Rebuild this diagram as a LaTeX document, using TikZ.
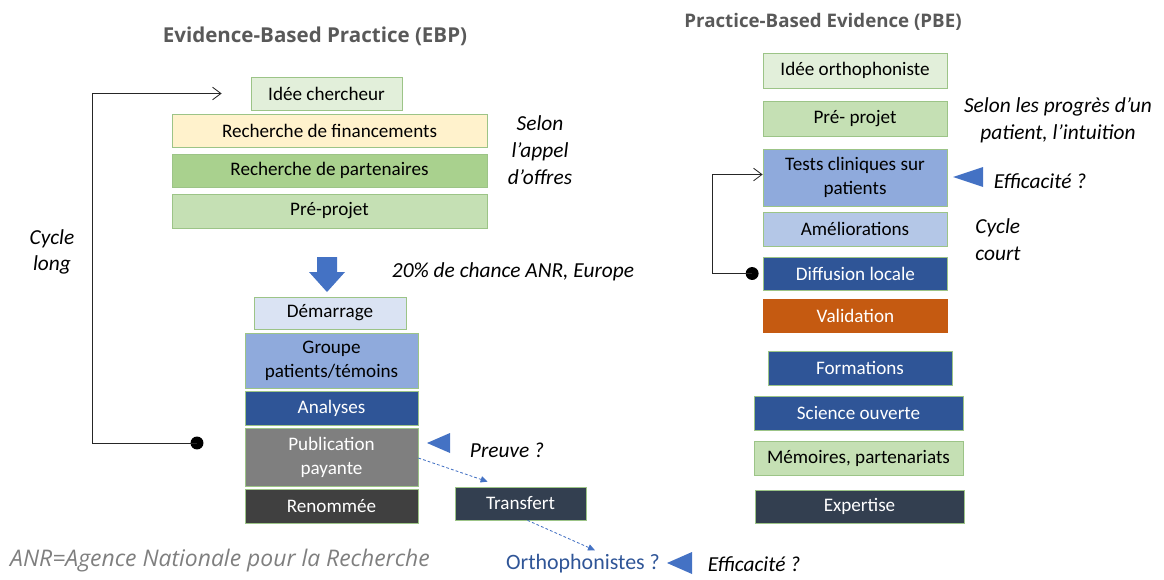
\documentclass[tikz,border=0pt]{standalone}
\usepackage{fontspec}
\setmainfont{Carlito}
\newfontfamily\titlefont{Open Sans}
\usepackage{tikz}
\usetikzlibrary{calc}
\usetikzlibrary{arrows.meta}
\definecolor{BoxLine}{HTML}{9CC487}
\definecolor{LGreen}{HTML}{E2EFDA}
\definecolor{PGreen}{HTML}{C5E0B4}
\definecolor{MGreen}{HTML}{A9D18E}
\definecolor{LYellow}{HTML}{FFF2CC}
\definecolor{LBlue}{HTML}{DAE3F3}
\definecolor{PBlue}{HTML}{B4C7E7}
\definecolor{MBlue}{HTML}{8FAADC}
\definecolor{DBlue}{HTML}{2F5597}
\definecolor{Navy}{HTML}{333F50}
\definecolor{MGray}{HTML}{7F7F7F}
\definecolor{DGray}{HTML}{404040}
\definecolor{Rust}{HTML}{C55A11}
\definecolor{TriBlue}{HTML}{4472C4}
\definecolor{TitleGray}{HTML}{595959}
\newcommand{\pix}{0.025cm}

\begin{document}
\begin{tikzpicture}[
x=0.025cm, y=-0.025cm,
MyBox/.style={draw=BoxLine,line width=0.5pt,inner sep=1pt,align=center,
  font=\fontsize{13.6}{17}\selectfont,minimum height=33*\pix},
DarkBox/.style={MyBox,text=white},
Titles/.style={font=\titlefont\bfseries\fontsize{14.6}{17}\selectfont,text=TitleGray},
Notes/.style={font=\itshape\fontsize{15.2}{19}\selectfont,align=center,inner sep=0pt},
Cycle/.style={draw=black!85,line width=0.6pt},
Dashes/.style={draw=TriBlue,line width=0.6pt,dash pattern=on 2pt off 1.5pt,
  -{Triangle[length=5pt,width=4.5pt]}}
]
\useasboundingbox (0,0) rectangle (1164,579);

% EBP
\node[Titles] (TitleEBP) at (315,36) {Evidence-Based Practice (EBP)};
\node[MyBox,fill=LGreen,minimum width=151*\pix] (Idee) at (326.5,93.5) {Idée chercheur};
\node[MyBox,fill=LYellow,minimum width=315*\pix] (Financ) at (329.5,130.5) {Recherche de financements};
\node[MyBox,fill=MGreen,minimum width=315*\pix] (Partn) at (329.5,170.5) {Recherche de partenaires};
\node[MyBox,fill=PGreen,minimum width=315*\pix,minimum height=34*\pix] (PreProj) at (329.5,211) {Pré-projet};
\node[MyBox,fill=LBlue,minimum width=152*\pix,minimum height=32*\pix] (Demarr) at (330,313) {Démarrage};
\node[MyBox,fill=MBlue,minimum width=173*\pix,minimum height=55*\pix] (Groupe) at (331.5,360.5) {Groupe\\patients/témoins};
\node[DarkBox,fill=DBlue,minimum width=173*\pix,minimum height=34*\pix] (Analyses) at (331.5,408) {Analyses};
\node[DarkBox,fill=MGray,minimum width=173*\pix,minimum height=58*\pix] (Publi) at (331.5,457) {Publication\\payante};
\node[DarkBox,fill=DGray,minimum width=173*\pix,minimum height=34*\pix] (Renom) at (331.5,506) {Renommée};
\node[DarkBox,fill=Navy,minimum width=131*\pix] (Transf) at (520.5,503.5) {Transfert};

\fill[TriBlue] (317,257) -- (337,257) -- (337,272) -- (345,272) -- (327,292) -- (309,272) -- (317,272) -- cycle;

\node[Notes] (SelonAppel) at (540,150) {Selon\\l’appel\\d’offres};
\node[Notes] (Chance) at (513,272) {20\% de chance ANR, Europe};
\node[Notes] (CycleLong) at (52,252) {Cycle\\long};
\node[Notes] (Preuve) at (507,450) {Preuve ?};
\fill[TriBlue] (427,443) -- (450,433) -- (450,453) -- cycle;

\coordinate (LongDot) at (197,443);
\coordinate (LongEnd) at ([xshift=-29*\pix]Idee.west);
\fill[black] (LongDot) circle (4.6pt);
\draw[Cycle,-{Straight Barb[length=6pt,width=9pt]}] (LongDot) -- ++(-105,0) |- (LongEnd);

\node[font=\fontsize{15.6}{19}\selectfont,text=DBlue,inner sep=0pt] (Ortho) at (583,564) {Orthophonistes ?};
\fill[TriBlue] (667,563) -- (692,552) -- (692,574) -- cycle;
\node[Notes] (EfficB) at (754,564) {Efficacité ?};

\draw[Dashes] ([yshift=-1*\pix]Publi.east) -- ([xshift=33*\pix,yshift=5*\pix]Transf.north west);
\draw[Dashes] ([xshift=7*\pix]Transf.south) -- ([xshift=12*\pix,yshift=4*\pix]Ortho.north);

\node[font=\titlefont\itshape\fontsize{16.3}{19}\selectfont,text=MGray,inner sep=0pt] (Anr) at (220,561) {ANR=Agence Nationale pour la Recherche};

% PBE
\node[Titles,font=\titlefont\bfseries\fontsize{13.3}{16}\selectfont] (TitlePBE) at (823,22) {Practice-Based Evidence (PBE)};
\node[MyBox,fill=LGreen,minimum width=184*\pix,minimum height=35*\pix] (IdeeOrtho) at (855,70.5) {Idée orthophoniste};
\node[MyBox,fill=PGreen,minimum width=184*\pix,minimum height=35*\pix] (PreProjB) at (855,118.5) {Pré- projet};
\node[MyBox,fill=MBlue,minimum width=184*\pix,minimum height=57*\pix] (Tests) at (855,177.5) {Tests cliniques sur\\patients};
\node[MyBox,fill=PBlue,minimum width=184*\pix,minimum height=34*\pix] (Amelio) at (855,229) {Améliorations};
\node[DarkBox,fill=DBlue,minimum width=184*\pix] (Diffus) at (855.5,273.5) {Diffusion locale};
\node[DarkBox,fill=Rust,draw=Rust,minimum width=184*\pix] (Valid) at (855.5,315.5) {Validation};
\node[DarkBox,fill=DBlue,minimum width=184*\pix,minimum height=34*\pix] (Format) at (860,368) {Formations};
\node[DarkBox,fill=DBlue,minimum width=209*\pix,minimum height=34*\pix] (Science) at (858.5,413) {Science ouverte};
\node[MyBox,fill=PGreen,minimum width=209*\pix,minimum height=34*\pix] (Memoires) at (858.5,458) {Mémoires, partenariats};
\node[DarkBox,fill=Navy,minimum width=209*\pix] (Expert) at (859.5,506.5) {Expertise};

\node[Notes] (SelonProg) at (1058,120) {Selon les progrès d’un\\patient, l’intuition};
\fill[TriBlue] (953,177) -- (983,167) -- (983,187) -- cycle;
\node[Notes] (EfficR) at (1040,181) {Efficacité ?};
\node[Notes,align=left] (CycleCourt) at (998,240) {Cycle\\court};

\coordinate (ShortDot) at ([xshift=-11*\pix]Diffus.west);
\fill[black] (ShortDot) circle (4.6pt);
\draw[Cycle,-{Straight Barb[length=6pt,width=9pt]}] (ShortDot) -- ++(-40,0) |- ([yshift=3*\pix]Tests.west);

\end{tikzpicture}
\end{document}
